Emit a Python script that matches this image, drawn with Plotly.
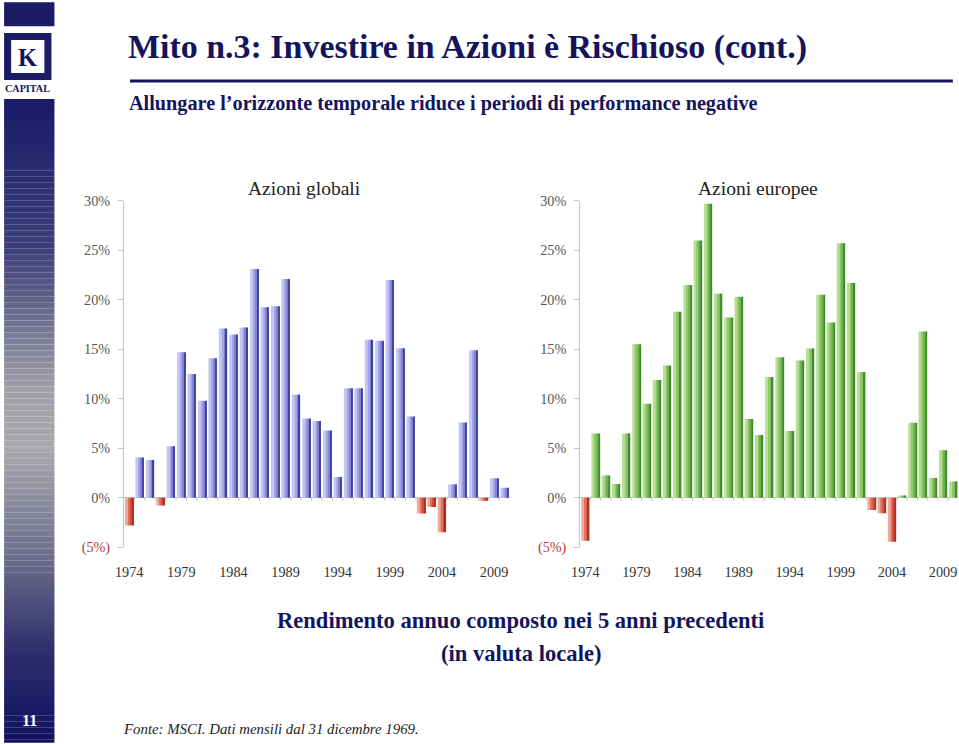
import plotly.graph_objects as go

W, H = 959, 744
# the photographed frame shows the page slightly scaled and offset; map target pixels onto the page
SH, SV, PAD = 959 / 975, 744 / 760, 8

years = list(range(1974, 2011))
globali = [-2.8, 4.05, 3.8, -0.8, 5.2, 14.7, 12.5, 9.8, 14.1, 17.1, 16.5, 17.2, 23.1,
           19.25, 19.35, 22.1, 10.4, 8.0, 7.75, 6.8, 2.1, 11.05, 11.05, 15.95, 15.85,
           22.0, 15.1, 8.2, -1.6, -0.95, -3.5, 1.36, 7.6, 14.9, -0.3, 1.97, 1.0]
europee = [-4.36, 6.48, 2.25, 1.38, 6.48, 15.5, 9.5, 11.9, 13.36, 18.8, 21.5, 26.0, 29.7,
           20.6, 18.2, 20.3, 7.95, 6.34, 12.2, 14.2, 6.75, 13.86, 15.07, 20.5, 17.7,
           25.7, 21.7, 12.7, -1.24, -1.58, -4.46, 0.23, 7.58, 16.8, 1.98, 4.8, 1.64]
ytick_vals = [-5, 0, 5, 10, 15, 20, 25, 30]
ytick_text = ['<span style="color:#b03a3a">(5%)</span>', '0%', '5%', '10%', '15%', '20%', '25%', '30%']
xtick_vals = [1974, 1979, 1984, 1989, 1994, 1999, 2004, 2009]

NAVY = '#14145c'
SERIF = 'Liberation Serif'

def px_x(p):
    return (p / SH - PAD) / W

def px_y(p):
    return 1 - (p / SV - PAD) / H

def fs(size):
    return size / SH

# strips to fake the horizontal gradient in each bar: (offset, width)
strips = [(-0.40, 0.25), (-0.15, 0.25), (0.10, 0.18), (0.28, 0.12)]
blue_cols = ['#c3c6f2', '#a4a7e6', '#8386d3', '#3f41a2']
green_cols = ['#b6de94', '#8fc86a', '#6bb048', '#3a8a28']
red_cols = ['#f2a898', '#e3705e', '#d24c3a', '#b42a1c']

fig = go.Figure()

def add_bars(vals, pos_cols, xa, ya):
    for (off, wd), pc, nc in zip(strips, pos_cols, red_cols):
        fig.add_trace(go.Bar(
            x=years, y=vals, xaxis=xa, yaxis=ya,
            width=wd, offset=off,
            marker=dict(color=[pc if v >= 0 else nc for v in vals], line=dict(width=0)),
            hoverinfo='skip', showlegend=False))

add_bars(globali, blue_cols, 'x', 'y')
add_bars(europee, green_cols, 'x2', 'y2')

ydom = [px_y(548), px_y(201)]
xcommon = dict(range=[1973.5, 2010.5], tickvals=xtick_vals, ticks='', showline=False,
               showgrid=False, zeroline=False,
               tickfont=dict(family=SERIF, size=fs(14), color='#333333'), ticklabelstandoff=15)
ycommon = dict(range=[-5, 30], domain=ydom, tickvals=ytick_vals, ticktext=ytick_text,
               showline=True, linecolor='#c4c4c4', linewidth=1, ticks='outside', ticklen=5,
               tickcolor='#c4c4c4', showgrid=False, zeroline=True, zerolinecolor='#c4c4c4',
               zerolinewidth=1, tickfont=dict(family=SERIF, size=fs(14), color='#555555'),
               ticklabelstandoff=5)

fig.update_layout(
    width=W, height=H, autosize=False, margin=dict(l=0, r=0, t=0, b=0),
    paper_bgcolor='white', plot_bgcolor='rgba(0,0,0,0)',
    barmode='overlay',
    xaxis=dict(domain=[px_x(122), px_x(505)], anchor='y', **xcommon),
    yaxis=dict(anchor='x', **ycommon),
    xaxis2=dict(domain=[px_x(575), min(1.0, px_x(950.5))], anchor='y2', **xcommon),
    yaxis2=dict(anchor='x2', **ycommon),
)

shapes = []
# small category separator ticks under zero line
for xr, yr in (('x', 'y'), ('x2', 'y2')):
    for yv in years[:-1]:
        shapes.append(dict(type='line', xref=xr, yref=yr, x0=yv + 0.5, x1=yv + 0.5,
                           y0=0, y1=-0.28, line=dict(color='#c4c4c4', width=1)))

# sidebar
def interp(stops, t):
    for (t0, c0), (t1, c1) in zip(stops, stops[1:]):
        if t0 <= t <= t1:
            f = (t - t0) / (t1 - t0) if t1 > t0 else 0
            return tuple(int(a + (b - a) * f) for a, b in zip(c0, c1))
    return stops[-1][1]

stops = [(99, (26, 26, 104)), (250, (62, 64, 122)), (390, (160, 160, 168)),
         (450, (168, 168, 174)), (560, (108, 108, 140)), (650, (48, 48, 110)),
         (744, (16, 16, 96))]
y = 99
step = 6
while y < 744:
    c = interp(stops, y + step / 2)
    shapes.append(dict(type='rect', xref='paper', yref='paper', x0=px_x(3), x1=px_x(53),
                       y0=px_y(min(y + step, 744)), y1=px_y(y), line=dict(width=0),
                       fillcolor='rgb(%d,%d,%d)' % c, layer='below'))
    y += step
shapes.append(dict(type='rect', xref='paper', yref='paper', x0=px_x(3), x1=px_x(53),
                   y0=px_y(26), y1=px_y(2), line=dict(width=0), fillcolor='#1b1b66'))
shapes.append(dict(type='rect', xref='paper', yref='paper', x0=px_x(3), x1=px_x(50),
                   y0=px_y(80), y1=px_y(33), line=dict(width=0), fillcolor='#1b1b66'))
shapes.append(dict(type='rect', xref='paper', yref='paper', x0=px_x(10), x1=px_x(43),
                   y0=px_y(73), y1=px_y(40), line=dict(width=0), fillcolor='white'))
# title underline
shapes.append(dict(type='line', xref='paper', yref='paper', x0=px_x(128), x1=px_x(945),
                   y0=px_y(81), y1=px_y(81), line=dict(color=NAVY, width=3)))
fig.update_layout(shapes=shapes)

def txt(text, x, y, size, color, xanchor='left', bold=False, italic=False, family=SERIF):
    if bold:
        text = '<b>' + text + '</b>'
    if italic:
        text = '<i>' + text + '</i>'
    fig.add_annotation(text=text, x=px_x(x), y=px_y(y), xref='paper', yref='paper',
                       xanchor=xanchor, yanchor='middle', showarrow=False,
                       font=dict(family=family, size=fs(size), color=color))

txt('Mito n.3: Investire in Azioni è Rischioso (cont.)', 124, 47, 33.4, NAVY, bold=True)
txt('Allungare l’orizzonte temporale riduce i periodi di performance negative', 125, 104, 19.9, NAVY, bold=True)
txt('Azioni globali', 301, 189, 19.2, '#222222', xanchor='center')
txt('Azioni europee', 752, 189, 19.2, '#222222', xanchor='center')
txt('Rendimento annuo composto nei 5 anni precedenti', 516, 621, 22.2, NAVY, xanchor='center', bold=True)
txt('(in valuta locale)', 516, 655, 22.2, NAVY, xanchor='center', bold=True)
txt('Fonte: MSCI. Dati mensili dal 31 dicembre 1969.', 119, 730, 14.6, '#222222', italic=True)
txt('11', 28, 722, 16, 'white', xanchor='center', bold=True)
txt('K', 26.5, 57, 24, NAVY, xanchor='center', bold=True)
txt('CAPITAL', 26.5, 88, 10, NAVY, xanchor='center', bold=True)

fig.write_html('out.html', config={'displayModeBar': False},
               post_script="document.body.style.margin='0';document.body.style.overflow='hidden';"
                           "document.documentElement.style.overflow='hidden';")
